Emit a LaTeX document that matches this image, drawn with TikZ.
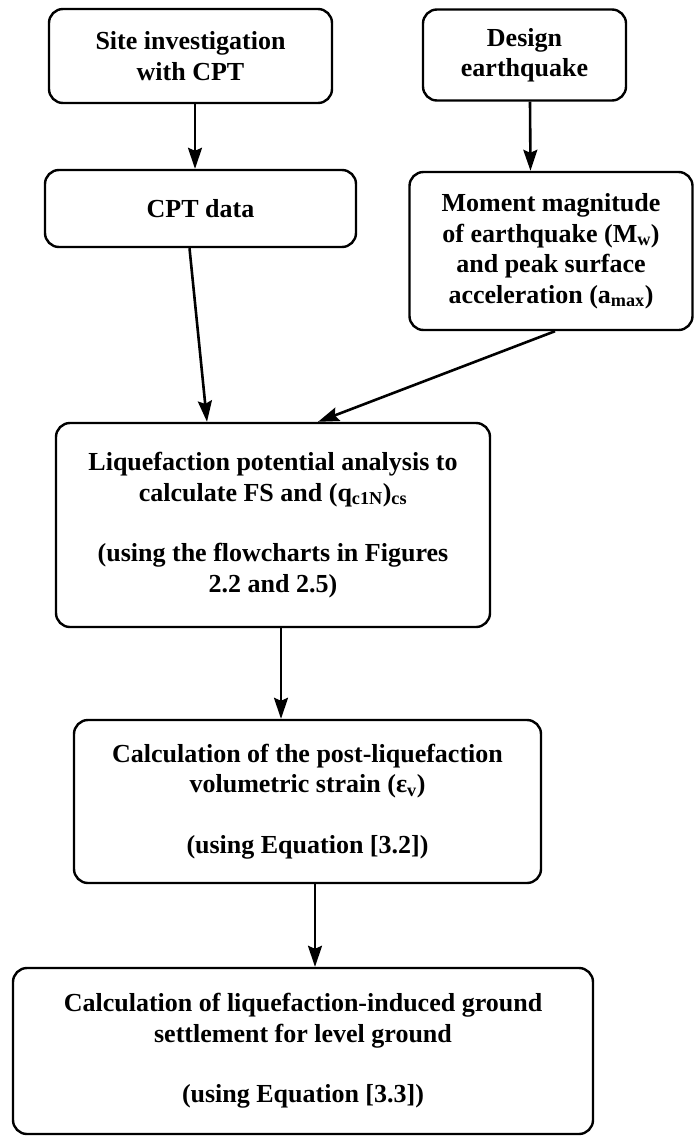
\documentclass[tikz,border=0pt]{standalone}
\usepackage{fontspec}
\setmainfont{Liberation Serif}
\usetikzlibrary{arrows.meta}
\tikzset{
  box/.style={draw=black, line width=2.4pt, rounded corners=14pt, inner sep=0pt, align=center,
    font=\bfseries\fontsize{26}{30.5}\selectfont},
  arr/.style={line width=2.6pt, -{Stealth[length=21pt,width=14pt,inset=3pt]}}
}
\begin{document}
\begin{tikzpicture}[x=1pt,y=-1pt]
\useasboundingbox (0,0) rectangle (695,1138);
\node[box, minimum width=283pt, minimum height=94pt] (site) at (190.5,56) {Site investigation\\with CPT};
\node[box, minimum width=203pt, minimum height=91pt] (design) at (524.5,55) {Design\\earthquake};
\node[box, minimum width=311pt, minimum height=77pt] (cpt) at (200.5,208.5) {CPT data};
\node[box, minimum width=283pt, minimum height=158pt] (moment) at (551,251) {Moment magnitude\\of earthquake (M\textsubscript{w})\\and peak surface\\acceleration (a\textsubscript{max})};
\node[box, minimum width=434pt, minimum height=204pt] (liq) at (273,525) {Liquefaction potential analysis to\\calculate FS and (q\textsubscript{c1N})\textsubscript{cs}\\[30pt](using the flowcharts in Figures\\2.2 and 2.5)};
\node[box, minimum width=467pt, minimum height=163pt] (post) at (307.5,801.5) {Calculation of the post-liquefaction\\volumetric strain (ε\textsubscript{v})\\[30pt](using Equation [3.2])};
\node[box, minimum width=580pt, minimum height=166pt] (settle) at (303,1051) {Calculation of liquefaction-induced ground\\settlement for level ground\\[30pt](using Equation [3.3])};
\draw[arr] ([xshift=4.5pt]site.south) -- ([xshift=-5.5pt]cpt.north);
\draw[arr] ([xshift=5.5pt]design.south) -- ([xshift=-20.5pt]moment.north);
\draw[arr] ([xshift=-11pt]cpt.south) -- ([xshift=-66pt]liq.north);
\draw[arr] ([xshift=4pt]moment.south) -- ([xshift=45pt]liq.north);
\draw[arr] ([xshift=8pt]liq.south) -- ([xshift=-26.5pt]post.north);
\draw[arr] ([xshift=7.5pt]post.south) -- ([xshift=12pt]settle.north);
\end{tikzpicture}
\end{document}
